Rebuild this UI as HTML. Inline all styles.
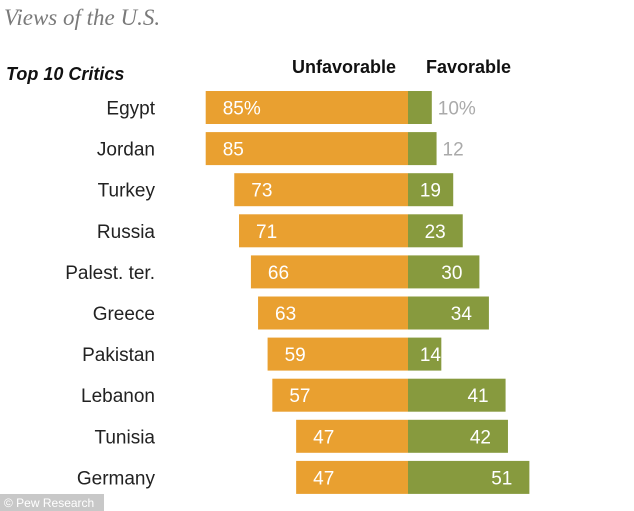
<!DOCTYPE html>
<html><head><meta charset="utf-8"><style>
body{margin:0;width:634px;height:511px;background:#fff;overflow:hidden;font-family:"Liberation Sans",sans-serif;position:relative}
</style></head><body>
<svg width="634" height="511" style="position:absolute;left:0;top:0">
<text x="4" y="25" font-family="Liberation Serif" font-style="italic" font-size="23" fill="#7a7a7a">Views of the U.S.</text>
<text x="6" y="80" font-weight="bold" font-style="italic" font-size="18" fill="#111">Top 10 Critics</text>
<text x="396" y="73" text-anchor="end" font-weight="bold" font-size="18" fill="#111">Unfavorable</text>
<text x="426" y="73" font-weight="bold" font-size="18" fill="#111">Favorable</text>
<g id="bars"></g>
<rect x="0" y="494" width="104" height="17" fill="#c8c8c8"/>
<text x="4" y="507" font-size="12" fill="#fff">© Pew Research</text>
</svg>
<script>
const countries=["Egypt","Jordan","Turkey","Russia","Palest. ter.","Greece","Pakistan","Lebanon","Tunisia","Germany"];
const unfavorable=[85,85,73,71,66,63,59,57,47,47];
const favorable=[10,12,19,23,30,34,14,41,42,51];
const cx=408, k=2.38, y0=91, pitch=41.1, bh=33;
const ns="http://www.w3.org/2000/svg";
const g=document.getElementById('bars');
function mk(t,a){const e=document.createElementNS(ns,t);for(const n in a)e.setAttribute(n,a[n]);g.appendChild(e);return e;}
countries.forEach((c,i)=>{
  const y=y0+i*pitch, ty=y+bh/2+7;
  const l=mk('text',{x:155,y:ty,'text-anchor':'end','font-size':19,fill:'#222'});l.textContent=c;
  
  
  const u=unfavorable[i]*k;
  const r1=mk('rect',{x:cx-u,y:y,width:u,height:bh,fill:'#e9a030'});
  
  
  const f=favorable[i]*k;
  const r2=mk('rect',{x:cx,y:y,width:f,height:bh,fill:'#879a3e'});
  
  
  const ut=mk('text',{x:cx-u+17,y:ty,'font-size':19,fill:'#fff'});ut.textContent=unfavorable[i]+(i==0?'%':'');
  
  
  let ft;
  if(f<32){ft=mk('text',{x:cx+f+6,y:ty,'font-size':19,fill:'#aaa'});}
  else{const tx=Math.max(cx+12+21,cx+f-17);ft=mk('text',{x:tx,y:ty,'font-size':19,fill:'#fff','text-anchor':'end'});}
  ft.textContent=favorable[i]+(i==0?'%':'');
  
  
});
</script>
</body></html>
